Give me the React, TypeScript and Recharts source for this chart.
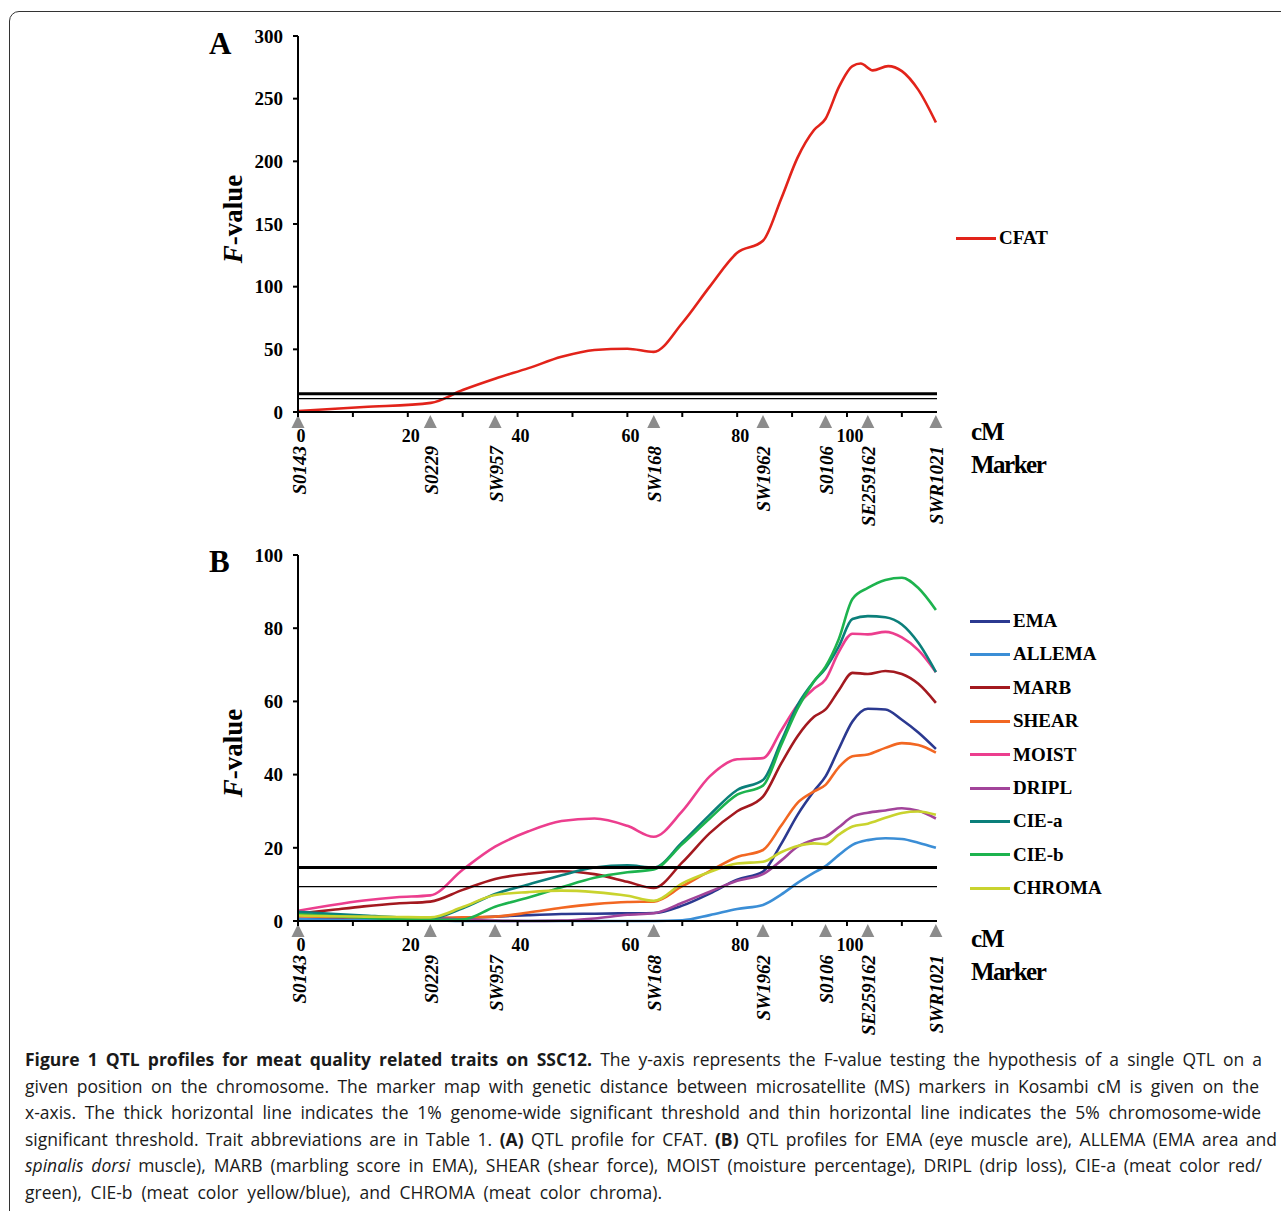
import React from 'react'
import { LineChart, Line, XAxis, YAxis, ReferenceLine } from 'recharts'

const SERIF = '"Liberation Serif", "Times New Roman", serif'
const SANS = '"Open Sans", "Noto Sans", sans-serif'

// marker map (Kosambi cM)
const markerNames = ['S0143', 'S0229', 'SW957', 'SW168', 'SW1962', 'S0106', 'SE259162', 'SWR1021']
const markerPos = [0, 24.1, 35.9, 64.8, 84.7, 96.1, 103.8, 116.2]
const cmTicks = [0, 10, 20, 30, 40, 50, 60, 70, 80, 90, 100, 110]

// panel A
const posA = [0, 12, 24.2, 30, 36, 42, 48, 54, 60, 64.8, 70, 75, 80, 84.7, 88, 91, 94, 96.1, 98.5, 101, 102.5, 104.7, 107.5, 110, 113, 116.2]
const cfat = [0.8, 4, 7.3, 17.5, 26.7, 35, 44, 49.5, 50.5, 48, 71, 100, 127, 136.6, 170, 203, 225, 234, 259, 276, 278, 272.6, 276, 272, 257, 231]
const ticksA = [0, 50, 100, 150, 200, 250, 300]
const thresholdsA = [14.6, 10.6]

// panel B
const posB = [0, 6, 12, 18, 24.1, 30, 35.9, 42, 48, 54, 60, 64.8, 70, 75, 80, 84.7, 88, 91, 94, 96.1, 98.5, 101, 103.8, 107, 110, 113, 116.2]
const ema = [0.6, 0.5, 0.4, 0.4, 0.5, 0.8, 1.2, 1.6, 1.9, 2, 2.1, 2.2, 4.2, 7.5, 11.3, 13.5, 21, 29, 35.5, 39.5, 47, 54.5, 58, 57.8, 55, 51.5, 47]
const allema = [0.5, 0.3, 0.2, 0.1, 0.1, 0, 0, 0, 0, 0, 0, 0, 0.2, 1.6, 3.3, 4.4, 7.2, 10.4, 13.2, 15, 18, 20.8, 22.1, 22.6, 22.4, 21.4, 20]
const marb = [2, 3, 4, 4.8, 5.3, 8.5, 11.5, 12.9, 13.6, 12.8, 10.7, 9, 16, 24, 30, 34, 43, 50.5, 55.8, 57.8, 63, 67.8, 67.5, 68.3, 67.5, 64.8, 59.6]
const shear = [1.3, 1.1, 1, 0.9, 0.9, 1, 1.2, 2.3, 3.6, 4.6, 5.2, 5.3, 9.5, 13.6, 17.5, 19.4, 26, 32.3, 35.4, 37.2, 42, 45, 45.5, 47.3, 48.6, 48.1, 46]
const moist = [2.8, 4.3, 5.6, 6.5, 7, 14, 20.3, 24.5, 27.3, 28, 26, 23, 30, 39.5, 44.2, 44.5, 52, 59, 63.5, 66, 73.5, 78.5, 78.3, 79, 77.5, 74, 68]
const dripl = [1.8, 1.4, 1.1, 0.9, 0.8, 0.4, 0.1, 0, 0.1, 0.7, 1.7, 2.1, 5, 8, 11, 12.8, 16.5, 20.3, 22.2, 23, 25.6, 28.5, 29.6, 30.2, 30.8, 30.1, 28]
const ciea = [2.5, 2, 1.5, 1, 0.7, 3.5, 7.4, 10, 12.5, 14.6, 15.2, 14.6, 21.5, 29, 35.8, 38.5, 49, 59, 65.5, 69, 75, 82.5, 83.3, 83, 81, 76, 68]
const cieb = [1.9, 1.4, 0.9, 0.5, 0.3, 0.4, 3.9, 6.4, 9.2, 11.8, 13.3, 14.1, 21, 28, 34.5, 37, 48, 58, 65.5, 69.5, 77, 88, 91, 93.2, 93.8, 91, 85]
const chroma = [1.5, 1.3, 1.2, 1.1, 1, 3.8, 7.1, 7.9, 8.3, 7.9, 6.9, 5.5, 10.3, 13.4, 15.7, 16.2, 18.8, 20.5, 21.2, 21, 23.6, 25.8, 26.6, 28.2, 29.5, 29.9, 29]
const ticksB = [0, 20, 40, 60, 80, 100]
const thresholdsB = [14.6, 9.4]

const seriesB = [
  { name: 'EMA', values: ema, color: '#2B3990' },
  { name: 'ALLEMA', values: allema, color: '#3B8ED6' },
  { name: 'MARB', values: marb, color: '#A3191F' },
  { name: 'SHEAR', values: shear, color: '#F26722' },
  { name: 'MOIST', values: moist, color: '#EC3E8E' },
  { name: 'DRIPL', values: dripl, color: '#A2449A' },
  { name: 'CIE-a', values: ciea, color: '#0B7F7A' },
  { name: 'CIE-b', values: cieb, color: '#1DB34E' },
  { name: 'CHROMA', values: chroma, color: '#C9D32E' },
]
const seriesA = [{ name: 'CFAT', values: cfat, color: '#E2231A' }]

const rowsA = posA.map((cm, i) => ({ cm, CFAT: cfat[i] }))
const rowsB = posB.map((cm, i) => {
  const row: any = { cm }
  seriesB.forEach(s => { row[s.name] = s.values[i] })
  return row
})

const CmTick = (props: any) => {
  const { x, y, payload } = props
  const v = payload.value
  if (v % 20 !== 0 || v > 100) return <g />
  return (
    <text x={x + 3} y={y + 23} textAnchor="middle" fontFamily={SERIF} fontWeight="bold" fontSize={18} fill="#000">
      {v}
    </text>
  )
}

const markerLabel = (name: string) => (props: any) => {
  const vb = props.viewBox || {}
  const x = vb.x
  const y = vb.y + vb.height
  return (
    <g>
      <polygon points={`${x},${y + 3} ${x - 6.5},${y + 16} ${x + 6.5},${y + 16}`} fill="#8c8c8c" />
      <text
        transform={`translate(${x + 1},${y + 34}) rotate(-90)`}
        textAnchor="end"
        dominantBaseline="central"
        fontFamily={SERIF}
        fontWeight="bold"
        fontStyle="italic"
        fontSize={19}
        fill="#000"
      >
        {name}
      </text>
    </g>
  )
}

const Panel = ({ top, rows, series, yTicks, yMax, thresholds, marginTop, marginBottom }: any) => (
  <div style={{ position: 'absolute', left: 0, top }}>
    <LineChart width={1281} height={540} data={rows} margin={{ top: marginTop, right: 344, bottom: marginBottom, left: 218 }}>
      <XAxis
        dataKey="cm"
        type="number"
        domain={[0, 116.4]}
        ticks={cmTicks}
        interval={0}
        height={30}
        tickSize={5}
        stroke="#000"
        strokeWidth={2}
        tick={<CmTick />}
        allowDataOverflow
      />
      <YAxis
        type="number"
        domain={[0, yMax]}
        ticks={yTicks}
        interval={0}
        width={80}
        tickSize={5}
        tickMargin={10}
        stroke="#000"
        strokeWidth={2}
        tick={{ fill: '#000', fontSize: 19, fontFamily: SERIF, fontWeight: 'bold' }}
      />
      {series.map((s: any) => (
        <Line key={s.name} type="monotone" dataKey={s.name} stroke={s.color} strokeWidth={2.6} dot={false} activeDot={false} isAnimationActive={false} />
      ))}
      <ReferenceLine y={thresholds[0]} stroke="#000" strokeWidth={3} />
      <ReferenceLine y={thresholds[1]} stroke="#000" strokeWidth={1.3} />
      {markerNames.map((m, i) => (
        <ReferenceLine key={m} x={markerPos[i]} stroke="none" label={markerLabel(m)} />
      ))}
    </LineChart>
  </div>
)

const Legend = ({ series, left, top, step, lineW }: any) => (
  <div style={{ position: 'absolute', left, top }}>
    {series.map((s: any, i: number) => (
      <div key={s.name} style={{ position: 'absolute', top: i * step, left: 0, display: 'flex', alignItems: 'center', height: 24, marginTop: -12, whiteSpace: 'nowrap' }}>
        <span style={{ display: 'inline-block', width: lineW, height: 3, background: s.color, marginRight: 3 }} />
        <span style={{ fontFamily: SERIF, fontWeight: 'bold', fontSize: 19, color: '#000' }}>{s.name}</span>
      </div>
    ))}
  </div>
)

const txt = (style: React.CSSProperties, children: React.ReactNode) => (
  <div style={{ position: 'absolute', fontFamily: SERIF, fontWeight: 'bold', color: '#000', whiteSpace: 'nowrap', lineHeight: 1, ...style }}>{children}</div>
)

const YLabel = ({ cx, cy }: any) => (
  <div style={{ position: 'absolute', left: cx, top: cy, transform: 'translate(-50%, -50%) rotate(-90deg)', fontFamily: SERIF, fontWeight: 'bold', fontSize: 27, whiteSpace: 'nowrap', lineHeight: 1 }}>
    <i>F</i>-value
  </div>
)

const captionLines: React.ReactNode[] = [
  <><b>Figure 1 QTL profiles for meat quality related traits on SSC12.</b> The y-axis represents the F-value testing the hypothesis of a single QTL on a</>,
  <>given position on the chromosome. The marker map with genetic distance between microsatellite (MS) markers in Kosambi cM is given on the</>,
  <>x-axis. The thick horizontal line indicates the 1% genome-wide significant threshold and thin horizontal line indicates the 5% chromosome-wide</>,
  <>significant threshold. Trait abbreviations are in Table 1. <b>(A)</b> QTL profile for CFAT. <b>(B)</b> QTL profiles for EMA (eye muscle are), ALLEMA (EMA area and</>,
  <><i>spinalis dorsi</i> muscle), MARB (marbling score in EMA), SHEAR (shear force), MOIST (moisture percentage), DRIPL (drip loss), CIE-a (meat color red/</>,
  <>green), CIE-b (meat color yellow/blue), and CHROMA (meat color chroma).</>,
]
const captionWidths = [1237, 1234, 1236, 1252, 1237, 637]

export default function App() {
  return (
    <div style={{ position: 'absolute', left: 0, top: 0, width: 1281, height: 1211, overflow: 'hidden', background: '#fff' }}>
      <div style={{ position: 'absolute', left: 9, top: 11, width: 1300, height: 1230, border: '1.5px solid #333', borderRadius: 10, boxSizing: 'border-box' }} />

      <Panel top={0} rows={rowsA} series={seriesA} yTicks={ticksA} yMax={300} thresholds={thresholdsA} marginTop={36} marginBottom={98} />
      <Panel top={500} rows={rowsB} series={seriesB} yTicks={ticksB} yMax={100} thresholds={thresholdsB} marginTop={55} marginBottom={89} />

      {txt({ left: 209, top: 28, fontSize: 31 }, 'A')}
      {txt({ left: 209, top: 546, fontSize: 31 }, 'B')}
      <YLabel cx={233} cy={219} />
      <YLabel cx={233} cy={753} />

      {txt({ left: 971, top: 419, fontSize: 25, letterSpacing: -1 }, 'cM')}
      {txt({ left: 971, top: 452, fontSize: 25, letterSpacing: -1.5 }, 'Marker')}
      {txt({ left: 971, top: 926, fontSize: 25, letterSpacing: -1 }, 'cM')}
      {txt({ left: 971, top: 959, fontSize: 25, letterSpacing: -1.5 }, 'Marker')}

      <Legend series={seriesA} left={956} top={238} step={0} lineW={40} />
      <Legend series={seriesB} left={970} top={621} step={33.4} lineW={40} />

      <div style={{ position: 'absolute', left: 25, top: 1046, fontFamily: SANS, fontSize: 17.5, color: '#1a1a1a' }}>
        {captionLines.map((l, i) => (
          <div
            key={i}
            style={{
              whiteSpace: 'nowrap',
              height: 26.6,
              lineHeight: '26.6px',
              width: captionWidths[i],
              textAlign: 'justify',
              textAlignLast: 'justify',
            } as React.CSSProperties}
          >
            {l}
          </div>
        ))}
      </div>
    </div>
  )
}
